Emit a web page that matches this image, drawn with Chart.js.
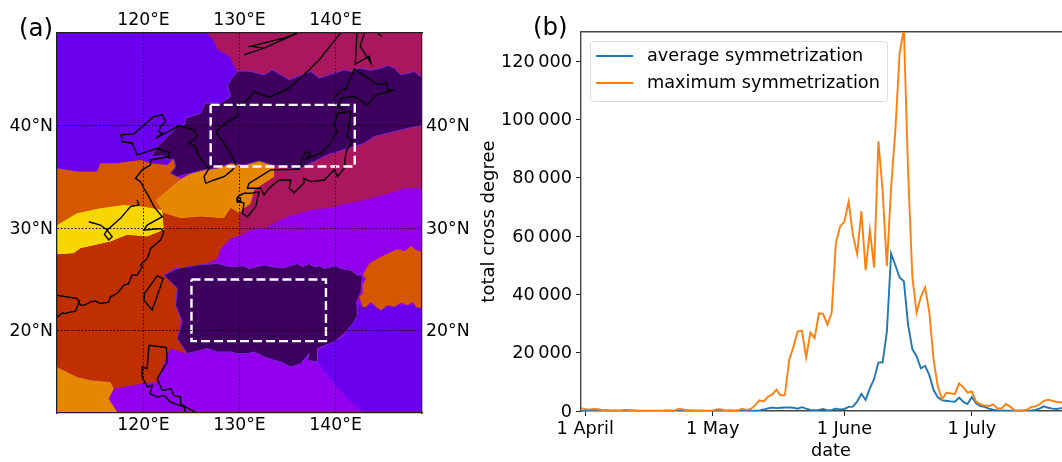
<!DOCTYPE html>
<html>
<head>
<meta charset="utf-8">
<script src="https://cdn.jsdelivr.net/npm/chart.js@4"></script>
<style>
html, body { margin: 0; padding: 0; background: #fff; overflow: hidden; width: 1062px; height: 462px; }
canvas { position: absolute; top: 0; }
#map { left: 0; }
#lines { left: 470px; }
.panel { position: absolute; font: 24.5px "DejaVu Sans", sans-serif; color: #000; line-height: 28px; }
</style>
</head>
<body>
<canvas id="map" width="480" height="462"></canvas>
<canvas id="lines" width="611" height="462"></canvas>
<div class="panel" style="left:19px;top:14px">(a)</div>
<div class="panel" style="left:533px;top:13px">(b)</div>
<script>
// panel (a) axis ticks
const lonTicks = [120, 130, 140];
const latTicks = [20, 30, 40];

// panel (a) regions, [lon, lat]
const mapFrame = [[111,49],[149,49],[149,12],[111,12]];
const northWest = [[111,49],[128,49],[131,46],[131,36],[111,35]];
const southEast = [[149,22.5],[142,22.5],[141,19.5],[138,18],[138.12,16.97],[138.47,16.48],[139.51,15.34],[141.25,13.39],[142.99,12],[149,12]];
const northEdge = [[129.78,45.26],[130.6,45.3],[131.17,45.26],[132.56,44.93],[133.43,45.42],[135.17,44.45],[137.43,45.26],[138.3,44.61],[140.9,45.42],[141.6,45.26],[142.47,45.58],[143.69,45.36],[144.73,45.58],[145.43,45.84],[146.12,45.58],[146.82,44.93],[148.21,45.26],[149.08,44.61]];
const crimsonNorth = [[126.65,49],[127.35,48.19],[127.7,47.4],[128.5,47],[129.1,46.56],[129.29,46.07]].concat(northEdge, [[149,49]]);
const deepNorth = northEdge.concat([[149.08,40.05],[147.17,39.63],[145.43,39.24],[144.04,38.92],[143,38.27],[139.17,37.13],[137.43,36.32],[136.04,35.67],[133.6,36.09],[132.04,36.54],[130.47,36.15],[129.08,36.32],[127.69,35.83],[126.3,35.67],[123.52,35.01],[122.83,35.34],[123.35,35.99],[123.17,36.71],[122.65,36.64],[122.13,37.03],[120.81,36.97],[121.43,37.94],[122.48,38.92],[123.52,39.89],[124.22,39.96],[124.39,40.71],[125.96,41.19],[126.37,42.17],[128.04,42.17],[129.08,42.82],[128.74,43.86],[129.08,44.45]]);
const crimsonEast = [[133.6,37],[149,41],[149,33.88],[147.17,33.88],[145.77,33.45],[144.38,33.07],[142.99,32.74],[140.9,32.35],[139.51,32.02],[137.43,31.76],[134.99,31.11],[132.9,30.14],[131.17,29.81],[130.12,29.25],[129.5,31],[130,34]];
const darkOrange = [[111,35.82],[112.04,35.67],[113.09,35.51],[115.17,35.51],[115.52,36.32],[117.26,36.32],[119.69,36.64],[120.74,36.32],[122.48,36.15],[123.17,36.8],[123.35,35.99],[122.83,35.34],[123.87,34.85],[122.48,33.71],[121.26,32.74],[122.13,31.44],[121.43,30.14],[111,29]];
const orangeBand = [[121.26,32.74],[122.48,33.71],[123.69,34.69],[126.3,36],[130,37],[133.6,37],[133.6,35.67],[133.6,35.01],[132.56,34.37],[131.51,33.71],[131.17,32.41],[130.47,31.93],[129.95,31.44],[129.08,31.93],[128.39,30.95],[125.95,31.11],[123.87,30.95],[122.13,31.44]];
const yellowBand = [[111,30.3],[113.09,31.44],[115.52,31.93],[117.96,32.25],[120.04,32.09],[121.95,31.76],[122.13,29.81],[120.39,29.16],[118.3,29.32],[116.56,28.67],[113.43,28.02],[112.74,27.54],[111,27.44]];
const redBand = [[111,27.44],[112.74,27.54],[113.43,28.02],[116.56,28.67],[118.3,29.32],[120.39,29.16],[122.13,29.81],[122.13,31.44],[123.87,30.95],[125.95,31.11],[128.39,30.95],[129.08,31.93],[129.95,31.44],[130.05,29.81],[130.12,29.32],[129.08,29],[128.04,28.02],[127.69,27.05],[126.65,26.56],[125.26,26.23],[123.17,26.07],[122.13,25.42],[123.52,24.12],[123.87,20.87],[123.52,19.24],[124.56,17.78],[122.83,18.27],[122.3,17.29],[121.43,15.02],[119.69,14.85],[116.91,14.37],[116.56,15.02],[114.48,15.18],[113.09,15.5],[111,16.48]];
const deepSouth = [[122.13,25.42],[123.52,26.07],[125.61,26.4],[127.69,26.56],[129.08,26.23],[130.47,26.33],[130.99,26.07],[132.56,26.4],[133.43,26.23],[134.64,26.14],[136.04,26.56],[136.56,26.23],[137.25,26.56],[137.78,26.23],[138.3,26.33],[138.82,26.07],[140.04,26.33],[140.56,26.07],[141.6,25.91],[142.3,25.42],[142.82,25.42],[142.64,23.8],[142.2,22.8],[142.3,21.52],[141.95,20.9],[141.08,19.89],[139.86,18.92],[138.12,18.27],[138.12,16.97],[137.08,17.13],[137.25,17.78],[136.38,16.8],[135.34,16.48],[134.3,16.97],[133.6,17.13],[132.56,17.45],[131.51,17.94],[130.8,17.78],[129.78,17.78],[129.08,17.94],[127.69,17.94],[126.65,18.27],[124.56,17.78],[123.52,19.24],[124.04,20.87],[123.35,22.5],[123.52,24.12]];
const orangeEast = [[142.82,25.42],[143.51,26.56],[144.38,27.05],[145.43,27.54],[146.47,27.96],[147.17,27.76],[147.86,28.28],[148.38,27.86],[149,27.7],[149,22.17],[148.38,22.33],[148.03,22.82],[147.51,22.5],[146.82,22.75],[146.12,22.33],[145.43,22.5],[144.73,22.01],[144.21,22.33],[143.69,22.82],[143.17,22.33],[142.82,22.33],[142.47,23.31],[142.82,23.63],[142.82,24.45],[143.17,25.1]];
const orangeSouth = [[111,16.48],[113.09,15.5],[114.48,15.18],[116.56,15.02],[116.91,14.37],[116.39,13.39],[117.26,12.09],[117.37,12],[111,12]];

// panel (a) coastlines, [lon, lat]
const coastMain = [[140.56,49],[140.38,48.84],[138.3,46.4],[137.08,45.26],[135.17,43.63],[133.08,42.72],[131.51,43.3],[130.82,42.49],[129.78,41.84],[129.78,40.87],[128.74,40.38],[127.52,39.4],[128.39,38.27],[129.26,36.97],[129.61,36.15],[129.26,35.67],[128.39,35.01],[127.35,34.69],[126.48,34.36],[126.31,35.01],[126.83,35.83],[126.31,36.32],[125.61,37.29],[125.44,37.94],[124.74,38.27],[125.61,38.92],[125.26,39.57],[123.7,39.96],[121.26,38.75],[121.96,39.24],[121.61,39.4],[121.78,39.89],[122.31,40.38],[121.96,41.03],[121.09,40.87],[119,39.18],[117.68,39.08],[117.78,38.43],[118.83,38.27],[119.35,37.13],[121.43,37.78],[122.65,37.36],[122.65,36.97],[120.74,36.64],[120.74,36.15],[119.87,35.67],[119.18,34.85],[119.7,34.53],[120.04,33.88],[120.57,33.06],[121.09,32.09],[121.96,31.11],[120.39,30.3],[120.04,29.81],[121.78,29.97],[122.13,29.65],[121.78,28.84],[120.74,28.02],[120.55,27.4],[120.39,27.05],[119.7,26.4],[119.87,26.23],[119.35,25.42],[118.8,25.42],[118.45,24.6],[117.96,24.45],[117.26,23.63],[116.56,23.31],[116.4,22.8],[115.52,22.66],[115,22.9],[114.48,22.82],[113.9,22.5],[113.43,22.5],[113.09,23.15],[112.04,23.31],[111,23.47]];
const coastGulf = [[111,21.36],[111.6,21.75],[111.87,21.68],[112.25,21.8],[112.92,21.91],[113.09,22.33],[113.37,22.98]];
const coastRiver = [[114.31,30.62],[115.52,30.3],[116.22,29.81],[117.61,30.95],[118.65,32.09],[119.52,32.25],[119.35,32.74]];
const coastLake = [[116.22,29.81],[116.74,29.16],[116.39,28.84],[115.94,29.39],[116.22,29.81]];
const taiwan = [[121.43,25.36],[122.06,25.1],[120.91,22.01],[120.04,22.98],[120.11,23.63],[121.43,25.36]];
const luzonEast = [[120.57,18.59],[122.38,18.37],[122.48,16.97],[121.43,15.34],[121.96,14.2],[122.83,14.37],[123.17,13.71],[123.87,13.55],[123.87,12.9],[124.4,12.58],[125.6,12]];
const luzonWest = [[120.57,18.59],[120.39,16.32],[119.87,16.48],[119.87,15.5],[120.39,14.53],[120.91,14.69],[120.67,13.88],[121.43,13.55],[122.13,13.71],[122.83,13.06],[124.22,12.58],[124.4,12]];
const honshu = [[140.21,41.19],[141.6,41.36],[141.18,38.92],[141.77,38.43],[141.08,37.45],[140.9,35.83],[140.21,35.01],[139.86,35.67],[139.34,35.18],[138.82,34.69],[137.43,34.53],[136.66,34.85],[136.73,34.43],[135.69,33.45],[135.17,33.88],[135.34,34.69],[134.12,34.69],[133.08,33.88],[132.56,33.23],[132.21,33.88],[130.82,33.88],[130.99,34.36],[133.25,35.67],[136.21,35.73],[136.56,36.8],[136.91,37.45],[137.36,37.29],[136.91,36.71],[138.47,37.29],[139.51,38.27],[140.14,39.4],[139.86,40.05],[140.21,41.19]];
const kyushu = [[129.78,33.06],[130.47,33.39],[131.17,33.39],[132.04,33.55],[131.69,32.09],[130.82,31.11],[130.3,31.44],[130.47,32.41],[129.78,32.74],[129.78,33.06]];
const kyushuIsle = [[129.75,32.95],[130.1,32.95],[130.1,32.55],[129.75,32.55],[129.75,32.95]];
const hokkaido = [[139.86,42.66],[140.56,43.47],[141.08,43.53],[141.95,45.49],[143.34,44.61],[144.38,43.96],[145.32,44.12],[145.43,43.47],[145.95,43.4],[144.21,42.98],[143.34,42],[141.95,42.82],[140.56,42.66],[140.21,41.84],[140.9,41.52]];
const sakhalin = [[142.23,49],[142.05,45.97],[143.51,46.72],[143.69,46.07],[142.57,47.7],[142.99,49]];
const kurilTop = [[144.38,49],[144.8,48.67]];
const amurWedge = [[130.47,46.88],[132.56,47.53],[136.04,49],[134.64,48.51],[131.17,47.7],[132.56,47.53]];

// panel (a) study boxes
const boxNorth = [[127,42],[142,42],[142,36],[127,36],[127,42]];
const boxSouth = [[125,25],[139,25],[139,19],[125,19],[125,25]];

// panel (b) data, one value per day, first value is 31 March (day -1)
const firstDay = -1;
const averageSym = [0,0,0,0,0,0,0,0,0,0,0,0,0,0,0,0,0,0,0,0,0,0,0,0,0,0,0,0,0,0,0,0,0,0,0,0,0,0,0,0,0,
  100,200,500,900,1200,1000,1100,1200,1200,1100,800,1300,800,400,300,400,700,200,350,800,550,700,1400,1500,3200,5900,3800,7800,11000,16600,16700,27200,
  54000,50000,45800,44500,29500,21200,18800,14600,15500,12300,7200,4700,3650,3500,3300,3200,4600,3100,2400,4800,2600,1700,1400,800,450,200,200,100,100,50,50,100,100,200,400,900,1600,1100,800,700,1000,1000];
const maximumSym = [1000,600,500,700,600,300,400,200,300,200,400,400,300,200,100,100,100,100,100,100,300,200,100,800,500,300,300,200,200,100,100,100,600,500,200,300,200,300,800,400,700,
  2000,3650,3300,4900,5700,7300,5300,5500,17500,22000,27300,27500,18400,26900,25000,33500,33300,29600,33700,57700,63400,64900,71800,60300,53800,68500,48300,62000,49200,92500,75700,49700,76800,96300,122700,131000,
  82000,46000,33700,39200,42400,33800,17500,8300,4000,6300,6050,5800,9500,8100,6300,6700,3200,2300,1900,1700,2300,900,900,2400,1500,300,200,200,450,1400,1600,2400,3500,3900,3500,3100,3000,2900];
const dateTicks = [0, 30, 61, 91];
const dateLabels = ['1 April', '1 May', '1 June', '1 July'];
const countTicks = [0, 20000, 40000, 60000, 80000, 100000, 120000];
const countLabels = ['0', '20\u2009000', '40\u2009000', '60\u2009000', '80\u2009000', '100\u2009000', '120\u2009000'];

const fontName = '"DejaVu Sans", sans-serif';
const mapFont = { family: fontName, size: 17.3 };
const lineFont = { family: fontName, size: 17.7 };

function toPoints(pts) {
    return pts.map(function(p){ return { x: p[0], y: p[1] } });
}
function region(pts, color, rim) {
    return {
        data: toPoints(rim ? pts.concat([pts[0]]) : pts),
        showLine: true, fill: 'shape', backgroundColor: color,
        borderColor: rim || color, borderWidth: rim ? 1 : 0,
        pointRadius: 0, tension: 0
    };
}
function coast(pts) {
    return { data: toPoints(pts), showLine: true, fill: false, borderColor: '#000', borderWidth: 1.4, pointRadius: 0, tension: 0 };
}
function box(pts) {
    return { data: toPoints(pts), showLine: true, fill: false, borderColor: '#fff', borderWidth: 2.4, borderDash: [9, 4], pointRadius: 0, tension: 0 };
}
function setTicks(list) {
    return function(axis){ axis.ticks = list.map(function(v){ return { value: v } }) };
}

// listed bottom layer first, order is set below so later ones paint on top
const mapLayers = [
    region(mapFrame, '#9200ee'),
    region(northWest, '#6a00ee'),
    region(southEast, '#6a00ee'),
    region(crimsonNorth, '#ab175f'),
    region(crimsonEast, '#ab175f'),
    region(darkOrange, '#d55700'),
    region(orangeBand, '#e58800'),
    region(yellowBand, '#f8d700'),
    region(redBand, '#bf2f00'),
    region(orangeEast, '#d55700'),
    region(orangeSouth, '#e58800'),
    region(deepNorth, '#3e005e', '#7a28d8'),
    region(deepSouth, '#3e005e', '#7a28d8'),
    coast(coastMain), coast(coastGulf), coast(coastRiver), coast(coastLake), coast(taiwan),
    coast(luzonEast), coast(luzonWest), coast(honshu), coast(kyushu), coast(kyushuIsle), coast(hokkaido),
    coast(sakhalin), coast(kurilTop), coast(amurWedge),
    box(boxNorth), box(boxSouth)
];
mapLayers.forEach(function(d, i){ d.order = mapLayers.length - i });

function lonAxis(position, size, showGrid) {
    return {
        type: 'linear', position: position, min: 111, max: 149,
        afterBuildTicks: setTicks(lonTicks),
        afterFit: function(s){ s.height = size },
        ticks: { callback: function(v){ return v + '°E' }, font: mapFont, color: '#000', padding: 2, maxRotation: 0, autoSkip: false },
        grid: { display: true, drawOnChartArea: showGrid, drawTicks: false, color: '#000', lineWidth: 1, z: 1 },
        border: { color: '#222', width: 1.3, dash: [1.5, 2], z: 1 }
    };
}
function latAxis(position, size, showGrid) {
    return {
        type: 'linear', position: position, min: 12, max: 49,
        afterBuildTicks: setTicks(latTicks),
        afterFit: function(s){ s.width = size },
        ticks: { callback: function(v){ return v + '°N' }, font: mapFont, color: '#000', padding: 4, labelOffset: 1 },
        grid: { display: true, drawOnChartArea: showGrid, drawTicks: false, color: '#000', lineWidth: 1, z: 1 },
        border: { color: '#222', width: 1.3, dash: [1.5, 2], z: 1 }
    };
}

new Chart(document.getElementById('map').getContext('2d'), {
    type: 'scatter',
    data: { datasets: mapLayers },
    options: {
        responsive: false, animation: false,
        plugins: { legend: { display: false }, tooltip: { enabled: false } },
        scales: {
            x: lonAxis('bottom', 49, true),
            x2: lonAxis('top', 33, false),
            y: latAxis('left', 57, true),
            y2: latAxis('right', 58, false)
        }
    }
});

// matplotlib style legend box inside the axes
const legendBox = {
    id: 'legendBox',
    afterDraw: function(chart) {
        const ctx = chart.ctx;
        ctx.save();
        ctx.beginPath();
        ctx.roundRect(120.5, 41.5, 297, 60, 3);
        ctx.fillStyle = 'rgba(255,255,255,0.8)';
        ctx.fill();
        ctx.strokeStyle = '#dcdcdc';
        ctx.lineWidth = 1;
        ctx.stroke();
        chart.data.datasets.forEach(function(d, i) {
            const y = 56 + i * 27;
            ctx.beginPath();
            ctx.moveTo(126, y);
            ctx.lineTo(163, y);
            ctx.strokeStyle = d.borderColor;
            ctx.lineWidth = d.borderWidth;
            ctx.stroke();
            ctx.fillStyle = '#000';
            ctx.font = '17.7px ' + fontName;
            ctx.textBaseline = 'middle';
            ctx.fillText(d.label, 177, y);
        });
        ctx.restore();
    }
};

function dayPoints(values) {
    return values.map(function(v, i){ return { x: firstDay + i, y: v } });
}

new Chart(document.getElementById('lines').getContext('2d'), {
    type: 'line',
    data: {
        datasets: [
            { label: 'average symmetrization', data: dayPoints(averageSym), borderColor: '#1f77b4', borderWidth: 1.9, pointRadius: 0, tension: 0, order: 2 },
            { label: 'maximum symmetrization', data: dayPoints(maximumSym), borderColor: '#ff7f0e', borderWidth: 1.9, pointRadius: 0, tension: 0, order: 1 }
        ]
    },
    plugins: [legendBox],
    options: {
        responsive: false, animation: false,
        plugins: { legend: { display: false }, tooltip: { enabled: false } },
        scales: {
            x: {
                type: 'linear', min: -1, max: 116.7,
                afterBuildTicks: setTicks(dateTicks),
                afterFit: function(s){ s.height = 51 },
                ticks: { callback: function(v){ return dateLabels[dateTicks.indexOf(v)] }, font: lineFont, color: '#000', padding: 3, maxRotation: 0, autoSkip: false },
                grid: { drawOnChartArea: false, tickLength: 5, tickColor: '#222', lineWidth: 1 },
                border: { color: '#444', width: 1.4 },
                title: { display: true, text: 'date', font: lineFont, color: '#000', padding: { top: 0, bottom: 0 } }
            },
            x2: {
                type: 'linear', position: 'top', min: -1, max: 116.7,
                afterFit: function(s){ s.height = 32 },
                ticks: { display: false },
                grid: { drawOnChartArea: false, drawTicks: false },
                border: { color: '#444', width: 1.4 }
            },
            y: {
                type: 'linear', min: 0, max: 130000,
                afterBuildTicks: setTicks(countTicks),
                afterFit: function(s){ s.width = 111 },
                ticks: { callback: function(v){ return countLabels[countTicks.indexOf(v)] }, font: lineFont, color: '#000', padding: 4, labelOffset: 1 },
                grid: { drawOnChartArea: false, tickLength: 5, tickColor: '#222', lineWidth: 1 },
                border: { color: '#444', width: 1.4 },
                title: { display: true, text: 'total cross degree', font: { family: fontName, size: 18 }, color: '#000', padding: { top: 9, bottom: 0 } }
            }
        }
    }
});
</script>
</body>
</html>
